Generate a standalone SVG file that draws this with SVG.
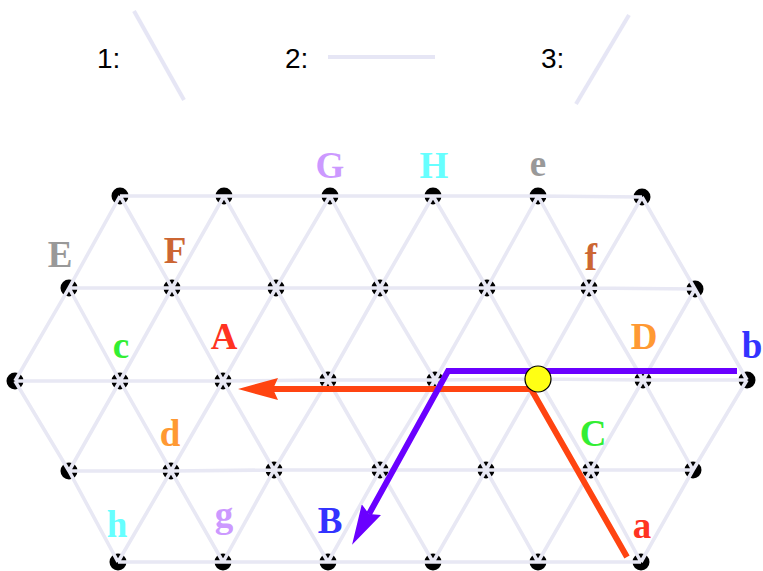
<svg xmlns="http://www.w3.org/2000/svg" width="763" height="571" viewBox="0 0 763 571">
<style>
.legend{font-family:"Liberation Sans",Arial,sans-serif;font-size:28px;fill:#000}
.lg{stroke:#e6e6f5;stroke-width:4;fill:none}
.lat{stroke:#e8e8f4;stroke-width:3.6;fill:none;stroke-linejoin:round}
.dot{fill:#000}
.lbl{font-family:"Liberation Serif","Times New Roman",serif;font-size:37px;font-weight:bold;text-anchor:middle}
.red{stroke:#ff4411;stroke-width:6;fill:none;stroke-linejoin:miter}
.pur{stroke:#6a00ff;stroke-width:6;fill:none;stroke-linejoin:miter}
</style>
<defs>
<marker id="ahR" markerUnits="userSpaceOnUse" viewBox="0 0 40 22" markerWidth="40" markerHeight="22" refX="5" refY="11" orient="auto">
<path d="M0,0 L40,11 L0,22 L5,11 Z" fill="#ff4411"/>
</marker>
<marker id="ahP" markerUnits="userSpaceOnUse" viewBox="0 0 40 22" markerWidth="40" markerHeight="22" refX="5" refY="11" orient="auto">
<path d="M0,0 L40,11 L0,22 L5,11 Z" fill="#6a00ff"/>
</marker>
</defs>
<rect width="763" height="571" fill="#fff"/>
<g id="legend">
<text class="legend" x="97" y="68">1:</text>
<line class="lg" x1="134" y1="11" x2="184" y2="100"/>
<text class="legend" x="285" y="68">2:</text>
<line class="lg" x1="328" y1="57" x2="435" y2="57"/>
<text class="legend" x="541" y="68">3:</text>
<line class="lg" x1="629" y1="15" x2="576" y2="104"/>
</g>
<g id="nodes">
<g id="n1_0"><circle class="dot" cx="120" cy="196" r="8.5"/></g>
<g id="n1_1"><circle class="dot" cx="224" cy="196" r="8.5"/></g>
<g id="n1_2"><circle class="dot" cx="330" cy="196" r="8.5"/></g>
<g id="n1_3"><circle class="dot" cx="433" cy="196" r="8.5"/></g>
<g id="n1_4"><circle class="dot" cx="538" cy="196" r="8.5"/></g>
<g id="n1_5"><circle class="dot" cx="642" cy="197" r="8.5"/></g>
<g id="n2_0"><circle class="dot" cx="69" cy="288" r="8.5"/></g>
<g id="n2_1"><circle class="dot" cx="172" cy="288" r="8.5"/></g>
<g id="n2_2"><circle class="dot" cx="276" cy="288" r="8.5"/></g>
<g id="n2_3"><circle class="dot" cx="380" cy="288" r="8.5"/></g>
<g id="n2_4"><circle class="dot" cx="487" cy="288" r="8.5"/></g>
<g id="n2_5"><circle class="dot" cx="589" cy="288" r="8.5"/></g>
<g id="n2_6"><circle class="dot" cx="695" cy="289" r="8.5"/></g>
<g id="n3_0"><circle class="dot" cx="15" cy="381" r="8.5"/></g>
<g id="n3_1"><circle class="dot" cx="120" cy="381" r="8.5"/></g>
<g id="n3_2"><circle class="dot" cx="223" cy="381" r="8.5"/></g>
<g id="n3_3"><circle class="dot" cx="328" cy="380" r="8.5"/></g>
<g id="n3_4"><circle class="dot" cx="435" cy="380" r="8.5"/></g>
<g id="n3_5"><circle class="dot" cx="538" cy="379" r="8.5"/></g>
<g id="n3_6"><circle class="dot" cx="643" cy="380" r="8.5"/></g>
<g id="n3_7"><circle class="dot" cx="747" cy="380" r="8.5"/></g>
<g id="n4_0"><circle class="dot" cx="69" cy="471" r="8.5"/></g>
<g id="n4_1"><circle class="dot" cx="171" cy="471" r="8.5"/></g>
<g id="n4_2"><circle class="dot" cx="274" cy="470" r="8.5"/></g>
<g id="n4_3"><circle class="dot" cx="380" cy="470" r="8.5"/></g>
<g id="n4_4"><circle class="dot" cx="486" cy="470" r="8.5"/></g>
<g id="n4_5"><circle class="dot" cx="591" cy="470" r="8.5"/></g>
<g id="n4_6"><circle class="dot" cx="693" cy="470" r="8.5"/></g>
<g id="n5_0"><circle class="dot" cx="118" cy="562" r="8.5"/></g>
<g id="n5_1"><circle class="dot" cx="223" cy="562" r="8.5"/></g>
<g id="n5_2"><circle class="dot" cx="328" cy="562" r="8.5"/></g>
<g id="n5_3"><circle class="dot" cx="433" cy="562" r="8.5"/></g>
<g id="n5_4"><circle class="dot" cx="538" cy="562" r="8.5"/></g>
<g id="n5_5"><circle class="dot" cx="641" cy="562" r="8.5"/></g>
</g>
<g id="connectors">
<path class="lat" d="M120,196 L224,196 L330,196 L433,196 L538,196 L642,197
M69,288 L172,288 L276,288 L380,288 L487,288 L589,288 L695,289
M15,381 L120,381 L223,381 L328,380 L435,380 L538,379 L643,380 L747,380
M69,471 L171,471 L274,470 L380,470 L486,470 L591,470 L693,470
M118,562 L223,562 L328,562 L433,562 L538,562 L641,562
M15,381 L69,471 L118,562
M69,288 L120,381 L171,471 L223,562
M120,196 L172,288 L223,381 L274,470 L328,562
M224,196 L276,288 L328,380 L380,470 L433,562
M330,196 L380,288 L435,380 L486,470 L538,562
M433,196 L487,288 L538,379 L591,470 L641,562
M538,196 L589,288 L643,380 L693,470
M642,197 L695,289 L747,380
M120,196 L69,288 L15,381
M224,196 L172,288 L120,381 L69,471
M330,196 L276,288 L223,381 L171,471 L118,562
M433,196 L380,288 L328,380 L274,470 L223,562
M538,196 L487,288 L435,380 L380,470 L328,562
M642,197 L589,288 L538,379 L486,470 L433,562
M695,289 L643,380 L591,470 L538,562
M747,380 L693,470 L641,562"/>
<polyline id="path-red" class="red" points="627,557 531,389 273,389" marker-end="url(#ahR)"/>
<polyline id="path-purple" class="pur" points="737,371 448,371 369,514" marker-end="url(#ahP)"/>
</g>
<g id="center"><circle cx="538" cy="379" r="13" fill="#ffff14" stroke="#000" stroke-width="1.2"/></g>
<g id="labels">
<text class="lbl" x="330" y="178" fill="#cc99ff">G</text>
<text class="lbl" x="434" y="178" fill="#66ffff">H</text>
<text class="lbl" x="538" y="176" fill="#999999">e</text>
<text class="lbl" x="60" y="267" fill="#999999">E</text>
<text class="lbl" x="175" y="263" fill="#cc6633">F</text>
<text class="lbl" x="591" y="270" fill="#cc6633">f</text>
<text class="lbl" x="121" y="358" fill="#33ee33">c</text>
<text class="lbl" x="224" y="349" fill="#ff3322">A</text>
<text class="lbl" x="644" y="349" fill="#ff9933">D</text>
<text class="lbl" x="752" y="358" fill="#3333ff">b</text>
<text class="lbl" x="170" y="446" fill="#ff9933">d</text>
<text class="lbl" x="593" y="446" fill="#33ee33">C</text>
<text class="lbl" x="117" y="537" fill="#66ffff">h</text>
<text class="lbl" x="224" y="527" fill="#cc99ff">g</text>
<text class="lbl" x="330" y="533" fill="#3333ff">B</text>
<text class="lbl" x="642" y="538" fill="#ff3322">a</text>
</g>
</svg>
